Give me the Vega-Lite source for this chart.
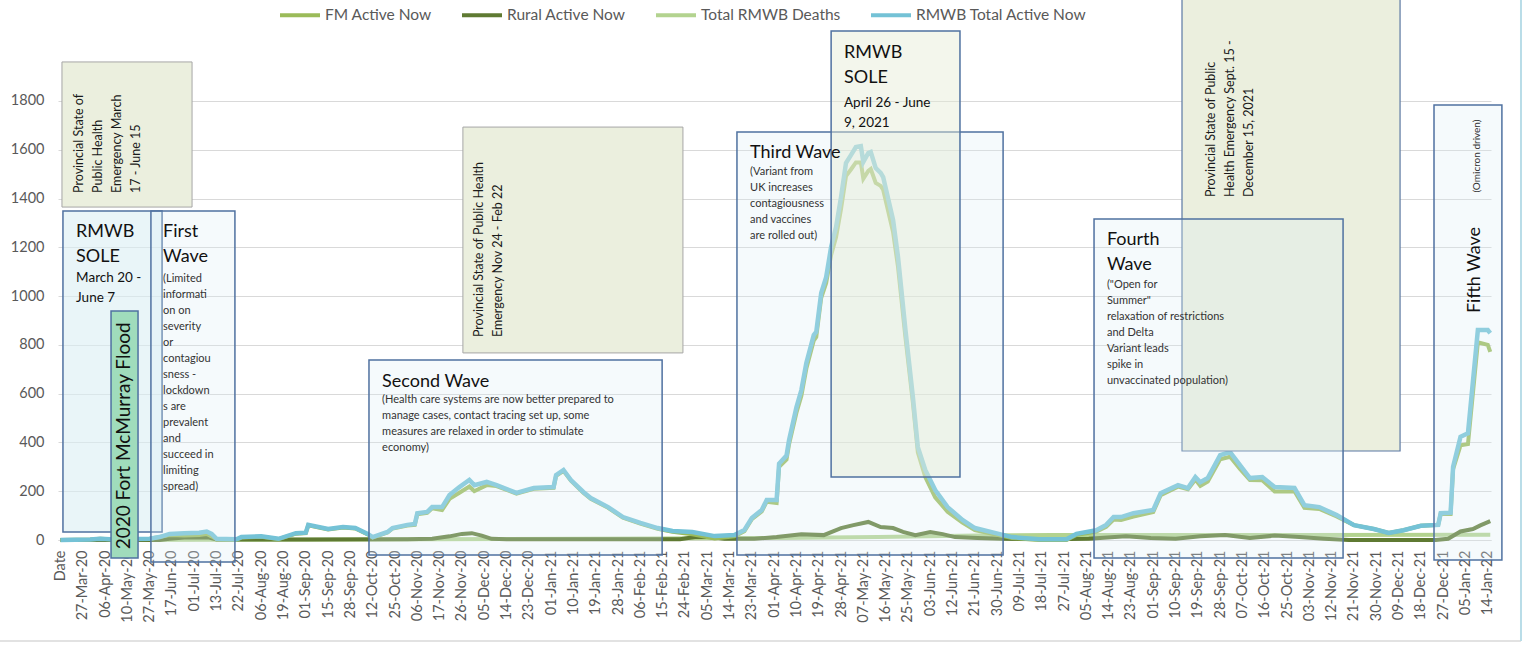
{
  "$schema": "https://vega.github.io/schema/vega-lite/v6.json",
  "width": 1433,
  "height": 540,
  "autosize": {"type": "none"},
  "padding": {"left": 58, "top": 0, "right": 34, "bottom": 105},
  "background": "white",
  "config": {"font": "Lato", "view": {"stroke": null}},
  "datasets": {
    "total": [
      {"n":0,"v":0},{"n":12,"v":2},{"n":16,"v":5},{"n":20,"v":3},{"n":36,"v":5},{"n":40,"v":12},{"n":44,"v":25},{"n":50,"v":28},{"n":56,"v":30},{"n":59,"v":35},{"n":61,"v":25},{"n":63,"v":5},{"n":71,"v":3},{"n":73,"v":12},{"n":81,"v":15},{"n":88,"v":5},{"n":95,"v":28},{"n":99,"v":30},{"n":100,"v":62},{"n":108,"v":45},{"n":114,"v":53},{"n":119,"v":49},{"n":124,"v":25},{"n":126,"v":12},{"n":132,"v":33},{"n":134,"v":49},{"n":140,"v":62},{"n":143,"v":66},{"n":144,"v":110},{"n":148,"v":115},{"n":150,"v":135},{"n":154,"v":135},{"n":157,"v":184},{"n":161,"v":217},{"n":165,"v":246},{"n":167,"v":225},{"n":172,"v":238},{"n":176,"v":225},{"n":184,"v":193},{"n":191,"v":213},{"n":199,"v":217},{"n":200,"v":266},{"n":203,"v":287},{"n":206,"v":246},{"n":211,"v":197},{"n":214,"v":172},{"n":221,"v":135},{"n":227,"v":94},{"n":234,"v":70},{"n":241,"v":49},{"n":247,"v":37},{"n":255,"v":33},{"n":264,"v":16},{"n":272,"v":20},{"n":276,"v":41},{"n":279,"v":90},{"n":283,"v":123},{"n":285,"v":164},{"n":289,"v":164},{"n":290,"v":313},{"n":293,"v":346},{"n":294,"v":408},{"n":297,"v":544},{"n":299,"v":615},{"n":301,"v":726},{"n":304,"v":840},{"n":305,"v":853},{"n":307,"v":1013},{"n":309,"v":1078},{"n":311,"v":1201},{"n":313,"v":1283},{"n":315,"v":1406},{"n":317,"v":1546},{"n":319,"v":1578},{"n":321,"v":1611},{"n":323,"v":1615},{"n":324,"v":1550},{"n":326,"v":1587},{"n":327,"v":1591},{"n":329,"v":1525},{"n":331,"v":1505},{"n":332,"v":1488},{"n":336,"v":1312},{"n":338,"v":1160},{"n":341,"v":861},{"n":344,"v":586},{"n":346,"v":381},{"n":349,"v":287},{"n":353,"v":205},{"n":358,"v":135},{"n":364,"v":82},{"n":369,"v":49},{"n":377,"v":29},{"n":384,"v":12},{"n":395,"v":3},{"n":406,"v":3},{"n":410,"v":25},{"n":418,"v":40},{"n":422,"v":62},{"n":425,"v":94},{"n":428,"v":94},{"n":433,"v":110},{"n":441,"v":123},{"n":444,"v":192},{"n":451,"v":225},{"n":455,"v":213},{"n":458,"v":258},{"n":460,"v":237},{"n":463,"v":254},{"n":468,"v":348},{"n":472,"v":360},{"n":476,"v":307},{"n":480,"v":254},{"n":485,"v":258},{"n":490,"v":217},{"n":498,"v":213},{"n":502,"v":143},{"n":508,"v":135},{"n":515,"v":102},{"n":522,"v":61},{"n":530,"v":45},{"n":536,"v":29},{"n":542,"v":40},{"n":549,"v":58},{"n":556,"v":62},{"n":557,"v":110},{"n":561,"v":112},{"n":562,"v":300},{"n":565,"v":423},{"n":568,"v":438},{"n":572,"v":861},{"n":576,"v":861},{"n":577,"v":848}
    ],
    "fm": [
      {"n":0,"v":0},{"n":12,"v":2},{"n":16,"v":5},{"n":20,"v":3},{"n":36,"v":5},{"n":40,"v":12},{"n":44,"v":20},{"n":50,"v":18},{"n":56,"v":20},{"n":59,"v":25},{"n":61,"v":15},{"n":63,"v":3},{"n":71,"v":1},{"n":73,"v":10},{"n":81,"v":13},{"n":88,"v":3},{"n":95,"v":26},{"n":99,"v":28},{"n":100,"v":60},{"n":108,"v":43},{"n":114,"v":51},{"n":119,"v":47},{"n":124,"v":23},{"n":126,"v":10},{"n":132,"v":31},{"n":134,"v":47},{"n":140,"v":59},{"n":143,"v":62},{"n":144,"v":106},{"n":148,"v":111},{"n":150,"v":130},{"n":154,"v":123},{"n":157,"v":169},{"n":161,"v":194},{"n":165,"v":219},{"n":167,"v":200},{"n":172,"v":225},{"n":176,"v":221},{"n":184,"v":190},{"n":191,"v":210},{"n":199,"v":214},{"n":200,"v":263},{"n":203,"v":284},{"n":206,"v":243},{"n":211,"v":194},{"n":214,"v":169},{"n":221,"v":132},{"n":227,"v":91},{"n":234,"v":67},{"n":241,"v":46},{"n":247,"v":34},{"n":255,"v":23},{"n":264,"v":6},{"n":272,"v":15},{"n":276,"v":36},{"n":279,"v":85},{"n":283,"v":117},{"n":285,"v":157},{"n":289,"v":152},{"n":290,"v":300},{"n":293,"v":330},{"n":294,"v":391},{"n":297,"v":522},{"n":299,"v":591},{"n":301,"v":703},{"n":304,"v":818},{"n":305,"v":832},{"n":307,"v":993},{"n":309,"v":1054},{"n":311,"v":1169},{"n":313,"v":1242},{"n":315,"v":1357},{"n":317,"v":1492},{"n":319,"v":1519},{"n":321,"v":1548},{"n":323,"v":1548},{"n":324,"v":1481},{"n":326,"v":1513},{"n":327,"v":1521},{"n":329,"v":1464},{"n":331,"v":1452},{"n":332,"v":1436},{"n":336,"v":1263},{"n":338,"v":1119},{"n":341,"v":830},{"n":344,"v":563},{"n":346,"v":359},{"n":349,"v":258},{"n":353,"v":175},{"n":358,"v":116},{"n":364,"v":71},{"n":369,"v":41},{"n":377,"v":23},{"n":384,"v":8},{"n":395,"v":0},{"n":406,"v":0},{"n":410,"v":21},{"n":418,"v":35},{"n":422,"v":54},{"n":425,"v":84},{"n":428,"v":82},{"n":433,"v":96},{"n":441,"v":115},{"n":444,"v":184},{"n":451,"v":219},{"n":455,"v":208},{"n":458,"v":248},{"n":460,"v":222},{"n":463,"v":240},{"n":468,"v":331},{"n":472,"v":341},{"n":476,"v":291},{"n":480,"v":246},{"n":485,"v":245},{"n":490,"v":199},{"n":498,"v":200},{"n":502,"v":132},{"n":508,"v":127},{"n":515,"v":97},{"n":522,"v":61},{"n":530,"v":45},{"n":536,"v":29},{"n":542,"v":40},{"n":549,"v":58},{"n":556,"v":62},{"n":557,"v":108},{"n":561,"v":107},{"n":562,"v":290},{"n":565,"v":388},{"n":568,"v":393},{"n":572,"v":811},{"n":576,"v":800},{"n":577,"v":771}
    ],
    "rural": [
      {"n":0,"v":0},{"n":40,"v":0},{"n":44,"v":5},{"n":50,"v":10},{"n":60,"v":10},{"n":63,"v":2},{"n":100,"v":2},{"n":140,"v":3},{"n":150,"v":5},{"n":157,"v":15},{"n":162,"v":25},{"n":166,"v":28},{"n":170,"v":18},{"n":174,"v":5},{"n":180,"v":3},{"n":250,"v":3},{"n":256,"v":12},{"n":262,"v":12},{"n":268,"v":5},{"n":280,"v":5},{"n":289,"v":12},{"n":299,"v":24},{"n":308,"v":20},{"n":315,"v":49},{"n":320,"v":61},{"n":326,"v":74},{"n":331,"v":53},{"n":336,"v":49},{"n":340,"v":33},{"n":345,"v":20},{"n":351,"v":33},{"n":356,"v":24},{"n":361,"v":12},{"n":370,"v":8},{"n":380,"v":5},{"n":400,"v":3},{"n":415,"v":5},{"n":430,"v":15},{"n":440,"v":8},{"n":450,"v":5},{"n":460,"v":15},{"n":470,"v":20},{"n":480,"v":8},{"n":490,"v":18},{"n":500,"v":12},{"n":510,"v":5},{"n":520,"v":0},{"n":555,"v":0},{"n":560,"v":5},{"n":565,"v":35},{"n":570,"v":45},{"n":573,"v":60},{"n":577,"v":77}
    ],
    "deaths": [
      {"n":0,"v":0},{"n":60,"v":1},{"n":120,"v":2},{"n":180,"v":4},{"n":240,"v":6},{"n":290,"v":8},{"n":330,"v":12},{"n":370,"v":18},{"n":400,"v":20},{"n":500,"v":21},{"n":577,"v":22}
    ],
    "boxes": [
      {"kind":"prov","n":0.6,"n2":53.1,"v":1365,"v2":1960},
      {"kind":"prov","n":162.4,"n2":251.2,"v":767,"v2":1693},
      {"kind":"prov2","n":452.6,"n2":540.6,"v":365,"v2":2300},
      {"kind":"sole2020","n":1.0,"n2":41.0,"v":33,"v2":1349},
      {"kind":"wave","n":36.5,"n2":70.4,"v":-90,"v2":1349},
      {"kind":"wave","n":124.5,"n2":242.8,"v":-61,"v2":738},
      {"kind":"wave","n":273.0,"n2":380.4,"v":-61,"v2":1673},
      {"kind":"wave","n":417.1,"n2":517.6,"v":-74,"v2":1316},
      {"kind":"wave","n":554.3,"n2":581.7,"v":-82,"v2":1784},
      {"kind":"flood","n":20.4,"n2":31.3,"v":-74,"v2":939},
      {"kind":"sole2021","n":311,"n2":363,"v":258,"v2":2087}
    ],
    "frame": [
      {"side":"right","n":589.4,"n2":589.4,"v":-414,"v2":2300},
      {"side":"bottom","n":-25,"n2":589.4,"v":-414,"v2":-414}
    ],
    "notes": [
      {"kind":"vert","n":5.0,"v":1423,"text":"Provincial State of\nPublic Health\nEmergency March\n17 - June 15"},
      {"kind":"vert","n":166.5,"v":832,"text":"Provincial State of Public Health\nEmergency Nov 24 - Feb 22"},
      {"kind":"vert","n":461.9,"v":1406,"text":"Provincial State of Public\nHealth Emergency Sept. 15 -\nDecember 15, 2021"},
      {"kind":"title","n":6.3,"v":1242,"text":"RMWB\nSOLE"},
      {"kind":"title","n":41.4,"v":1242,"text":"First\nWave"},
      {"kind":"title","n":129.8,"v":627,"text":"Second Wave"},
      {"kind":"title","n":278.3,"v":1566,"text":"Third Wave"},
      {"kind":"title","n":316.2,"v":1975,"text":"RMWB\nSOLE"},
      {"kind":"title","n":422.3,"v":1209,"text":"Fourth\nWave"},
      {"kind":"sub","n":6.3,"v":1058,"text":"March 20 -\nJune 7"},
      {"kind":"sub","n":316.2,"v":1775,"text":"April 26 - June\n9, 2021"},
      {"kind":"desc","n":41.4,"v":1058,"text":"(Limited\ninformati\non on\nseverity\nor\ncontagiou\nsness -\nlockdown\ns are\nprevalent\nand\nsucceed in\nlimiting\nspread)"},
      {"kind":"desc","n":129.8,"v":562,"text":"(Health care systems are now better prepared to\nmanage cases, contact tracing set up, some\nmeasures are relaxed in order to stimulate\neconomy)"},
      {"kind":"desc","n":278.3,"v":1497,"text":"(Variant from\nUK increases\ncontagiousness\nand vaccines\nare rolled out)"},
      {"kind":"desc","n":422.3,"v":1033,"text":"(\"Open for\nSummer\"\nrelaxation of restrictions\nand Delta\nVariant leads\nspike in\nunvaccinated population)"},
      {"kind":"flood","n":25.6,"v":427,"text":"2020 Fort McMurray Flood"},
      {"kind":"fifth","n":570.8,"v":1107,"text":"Fifth Wave"},
      {"kind":"omicron","n":571.8,"v":1574,"text":"(Omicron driven)"}
    ]
  },
  "encoding": {
    "x": {
      "field": "n", "type": "quantitative",
      "scale": {"domain": [-1, 577.3], "nice": false, "zero": false},
      "axis": {
        "title": null,
        "values": [0,9,18,27,36,45,54,63,72,81,90,99,108,117,126,135,144,153,162,171,180,189,198,207,216,225,234,243,252,261,270,279,288,297,306,315,324,333,342,351,360,369,378,387,396,405,414,423,432,441,450,459,468,477,486,495,504,513,522,531,540,549,558,567,576],
        "labelExpr": "['Date','27-Mar-20','06-Apr-20','10-May-20','27-May-20','17-Jun-20','01-Jul-20','13-Jul-20','22-Jul-20','06-Aug-20','19-Aug-20','01-Sep-20','15-Sep-20','28-Sep-20','12-Oct-20','25-Oct-20','06-Nov-20','17-Nov-20','26-Nov-20','05-Dec-20','14-Dec-20','23-Dec-20','01-Jan-21','10-Jan-21','19-Jan-21','28-Jan-21','06-Feb-21','15-Feb-21','24-Feb-21','05-Mar-21','14-Mar-21','23-Mar-21','01-Apr-21','10-Apr-21','19-Apr-21','28-Apr-21','07-May-21','16-May-21','25-May-21','03-Jun-21','12-Jun-21','21-Jun-21','30-Jun-21','09-Jul-21','18-Jul-21','27-Jul-21','05-Aug-21','14-Aug-21','23-Aug-21','01-Sep-21','10-Sep-21','19-Sep-21','28-Sep-21','07-Oct-21','16-Oct-21','25-Oct-21','03-Nov-21','12-Nov-21','21-Nov-21','30-Nov-21','09-Dec-21','18-Dec-21','27-Dec-21','05-Jan-22','14-Jan-22'][round(datum.value/9)]",
        "labelAngle": 270,
        "labelAlign": "right",
        "labelBaseline": "middle",
        "labelFontSize": 14.5,
        "labelColor": "#595959",
        "labelPadding": 10,
        "ticks": false,
        "grid": false,
        "domainColor": "#D9D9D9",
        "labelOverlap": false,
        "labelBound": false,
        "labelFlush": false
      }
    },
    "y": {
      "field": "v", "type": "quantitative",
      "scale": {"domain": [0, 2214], "nice": false, "zero": false},
      "axis": {
        "title": null,
        "values": [0,200,400,600,800,1000,1200,1400,1600,1800],
        "format": "d",
        "grid": true,
        "gridColor": "#D9D9D9",
        "domain": false,
        "ticks": false,
        "labelPadding": 14,
        "labelFontSize": 14.5,
        "labelColor": "#595959"
      }
    }
  },
  "layer": [
    {
      "data": {"name": "frame"},
      "transform": [{"filter": "datum.side === 'bottom'"}],
      "mark": {"type": "rule", "color": "#D9D9D9", "strokeWidth": 1.5, "clip": false},
      "encoding": {"x2": {"field": "n2"}, "y2": {"field": "v2"}}
    },
    {
      "data": {"name": "frame"},
      "transform": [{"filter": "datum.side === 'right'"}],
      "mark": {"type": "rule", "color": "#B9DDE8", "strokeWidth": 2, "clip": false},
      "encoding": {"x2": {"field": "n2"}, "y2": {"field": "v2"}}
    },
    {
      "data": {"name": "deaths"},
      "mark": {"type": "line", "strokeWidth": 4, "clip": false},
      "encoding": {"color": {"datum": "Total RMWB Deaths",
        "scale": {"domain": ["FM Active Now","Rural Active Now","Total RMWB Deaths","RMWB Total Active Now"], "range": ["#9BBB59","#5F7A32","#B3D38F","#74C2D6"]},
        "legend": {"orient": "none", "legendX": 220, "legendY": -7, "direction": "horizontal", "title": null, "symbolType": "stroke", "symbolSize": 1600, "symbolStrokeWidth": 4, "labelFontSize": 15.5, "labelColor": "#595959", "labelLimit": 400, "columnPadding": 22, "labelOffset": 3, "padding": 0}}}
    },
    {
      "data": {"name": "rural"},
      "mark": {"type": "line", "strokeWidth": 4, "clip": false},
      "encoding": {"color": {"datum": "Rural Active Now"}}
    },
    {
      "data": {"name": "fm"},
      "mark": {"type": "line", "strokeWidth": 4, "clip": false},
      "encoding": {"color": {"datum": "FM Active Now"}}
    },
    {
      "data": {"name": "total"},
      "mark": {"type": "line", "strokeWidth": 4.5, "clip": false},
      "encoding": {"color": {"datum": "RMWB Total Active Now"}}
    },
    {
      "data": {"name": "boxes"},
      "transform": [{"filter": "datum.kind === 'prov'"}],
      "mark": {"type": "rect", "fill": "#EBEFDE", "stroke": "#A6A6A6", "strokeWidth": 1},
      "encoding": {"x2": {"field": "n2"}, "y2": {"field": "v2"}}
    },
    {
      "data": {"name": "boxes"},
      "transform": [{"filter": "datum.kind === 'prov2'"}],
      "mark": {"type": "rect", "fill": "#EBEFDE", "stroke": "#5B78A3", "strokeWidth": 1.2},
      "encoding": {"x2": {"field": "n2"}, "y2": {"field": "v2"}}
    },
    {
      "data": {"name": "boxes"},
      "transform": [{"filter": "datum.kind === 'sole2020'"}],
      "mark": {"type": "rect", "fill": "#DAEEF3", "fillOpacity": 0.6, "stroke": "#4F71A0", "strokeWidth": 1.5},
      "encoding": {"x2": {"field": "n2"}, "y2": {"field": "v2"}}
    },
    {
      "data": {"name": "boxes"},
      "transform": [{"filter": "datum.kind === 'wave'"}],
      "mark": {"type": "rect", "fill": "#DAEEF3", "fillOpacity": 0.28, "stroke": "#4F71A0", "strokeWidth": 1.5},
      "encoding": {"x2": {"field": "n2"}, "y2": {"field": "v2"}}
    },
    {
      "data": {"name": "boxes"},
      "transform": [{"filter": "datum.kind === 'flood'"}],
      "mark": {"type": "rect", "fill": "#A0DCBC", "stroke": "#4F71A0", "strokeWidth": 1.5},
      "encoding": {"x2": {"field": "n2"}, "y2": {"field": "v2"}}
    },
    {
      "data": {"name": "boxes"},
      "transform": [{"filter": "datum.kind === 'sole2021'"}],
      "mark": {"type": "rect", "fill": "#E4ECD5", "fillOpacity": 0.45, "stroke": "#4F71A0", "strokeWidth": 1.5},
      "encoding": {"x2": {"field": "n2"}, "y2": {"field": "v2"}}
    },
    {
      "data": {"name": "notes"},
      "transform": [{"filter": "datum.kind === 'vert'"}],
      "mark": {"type": "text", "angle": 270, "align": "left", "baseline": "top", "fontSize": 12.5, "lineHeight": 19, "lineBreak": "\n", "color": "#1A1A1A"},
      "encoding": {"text": {"field": "text"}}
    },
    {
      "data": {"name": "notes"},
      "transform": [{"filter": "datum.kind === 'title'"}],
      "mark": {"type": "text", "align": "left", "baseline": "alphabetic", "fontSize": 18, "lineHeight": 25, "lineBreak": "\n", "color": "#111111"},
      "encoding": {"text": {"field": "text"}}
    },
    {
      "data": {"name": "notes"},
      "transform": [{"filter": "datum.kind === 'sub'"}],
      "mark": {"type": "text", "align": "left", "baseline": "alphabetic", "fontSize": 13.5, "lineHeight": 20, "lineBreak": "\n", "color": "#111111"},
      "encoding": {"text": {"field": "text"}}
    },
    {
      "data": {"name": "notes"},
      "transform": [{"filter": "datum.kind === 'desc'"}],
      "mark": {"type": "text", "align": "left", "baseline": "alphabetic", "fontSize": 11, "lineHeight": 16, "lineBreak": "\n", "color": "#333333"},
      "encoding": {"text": {"field": "text"}}
    },
    {
      "data": {"name": "notes"},
      "transform": [{"filter": "datum.kind === 'flood'"}],
      "mark": {"type": "text", "angle": 270, "align": "center", "baseline": "middle", "fontSize": 19, "color": "#111111"},
      "encoding": {"text": {"field": "text"}}
    },
    {
      "data": {"name": "notes"},
      "transform": [{"filter": "datum.kind === 'fifth'"}],
      "mark": {"type": "text", "angle": 270, "align": "center", "baseline": "middle", "fontSize": 18, "color": "#111111"},
      "encoding": {"text": {"field": "text"}}
    },
    {
      "data": {"name": "notes"},
      "transform": [{"filter": "datum.kind === 'omicron'"}],
      "mark": {"type": "text", "angle": 270, "align": "center", "baseline": "middle", "fontSize": 10, "color": "#333333"},
      "encoding": {"text": {"field": "text"}}
    }
  ]
}
